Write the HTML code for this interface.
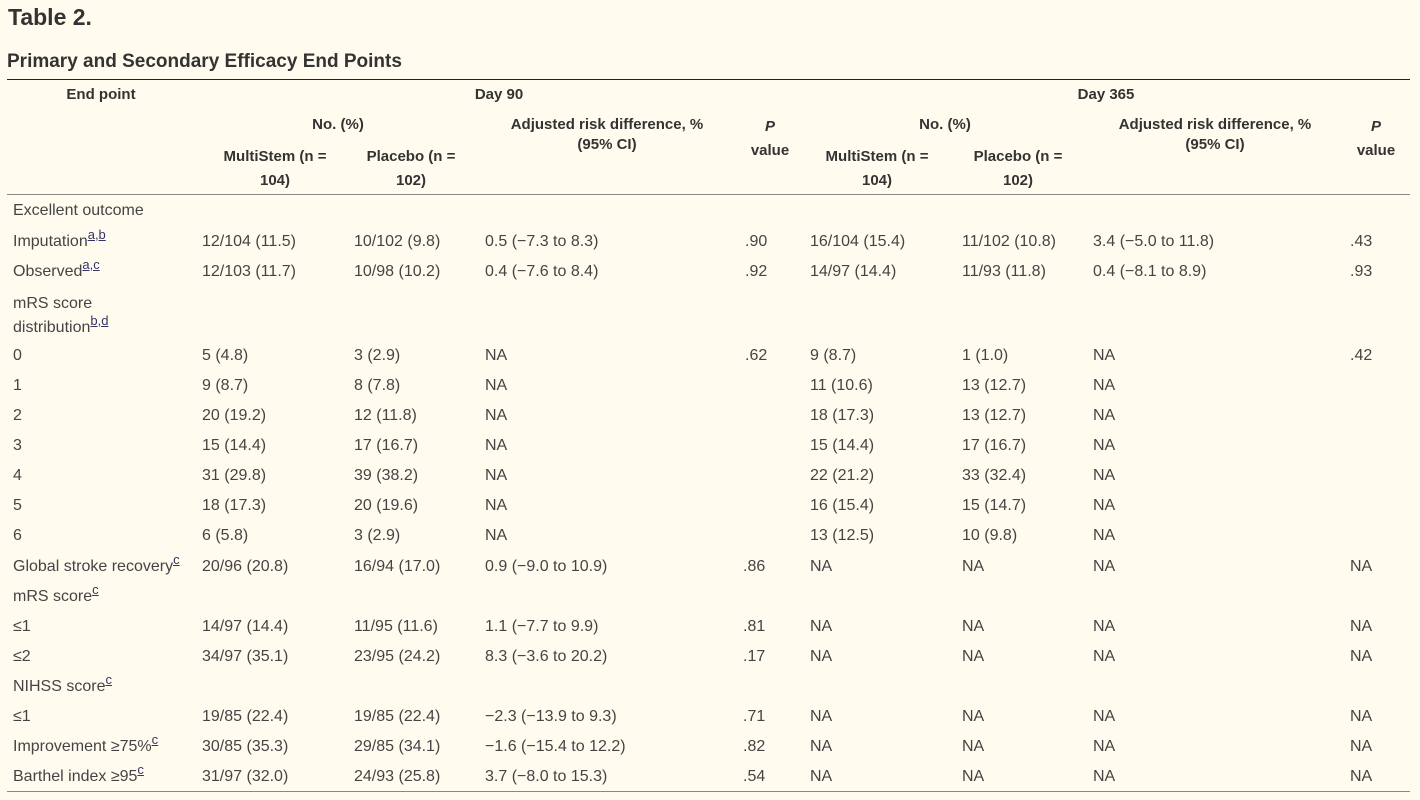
<!DOCTYPE html>
<html><head><meta charset="utf-8"><style>
body{margin:0;width:1420px;height:800px;background:#fffcef;position:relative;overflow:hidden;font-family:"Liberation Sans",sans-serif;color:#444;}
.a{position:absolute;white-space:nowrap;font-size:16px;line-height:20px;}
.h{position:absolute;white-space:nowrap;font-size:15px;line-height:20px;font-weight:bold;color:#333;text-align:center;transform:translateX(-50%);}
sup{font-size:13px;color:#336;text-decoration:underline;vertical-align:7px;line-height:0;}
.ln{position:absolute;left:7px;width:1403px;}
#b{position:absolute;left:0;top:2px;width:1420px;height:780px;}
</style></head><body>
<div class="a" style="left:8px;top:4px;font-size:23px;line-height:26px;font-weight:bold;color:#333">Table 2.</div>
<div class="a" style="left:7px;top:50px;font-size:19px;line-height:24px;font-weight:bold;color:#333">Primary and Secondary Efficacy End Points</div>
<div class="ln" style="top:79px;height:1px;background:#222"></div>
<div class="ln" style="top:194px;height:1px;background:#888"></div>
<div class="ln" style="top:791px;height:1px;background:#888"></div>

<div class="h" style="left:101px;top:85px">End point</div>
<div class="h" style="left:499px;top:85px">Day 90</div>
<div class="h" style="left:1106px;top:85px">Day 365</div>
<div class="h" style="left:338px;top:115px">No. (%)</div>
<div class="h" style="left:607px;top:115px">Adjusted risk difference, %<br>(95% CI)</div>
<div class="h" style="left:770px;top:115px;line-height:24px"><i>P</i><br>value</div>
<div class="h" style="left:275px;top:145px;line-height:24px">MultiStem (n =<br>104)</div>
<div class="h" style="left:411px;top:145px;line-height:24px">Placebo (n =<br>102)</div>
<div class="h" style="left:945px;top:115px">No. (%)</div>
<div class="h" style="left:1215px;top:115px">Adjusted risk difference, %<br>(95% CI)</div>
<div class="h" style="left:1376px;top:115px;line-height:24px"><i>P</i><br>value</div>
<div class="h" style="left:877px;top:145px;line-height:24px">MultiStem (n =<br>104)</div>
<div class="h" style="left:1018px;top:145px;line-height:24px">Placebo (n =<br>102)</div>

<div id="b">
<div class="a" style="left:13px;top:199px">Excellent outcome</div>

<div class="a" style="left:13px;top:230px">Imputation<sup>a,b</sup></div>
<div class="a" style="left:202px;top:230px">12/104 (11.5)</div><div class="a" style="left:354px;top:230px">10/102 (9.8)</div><div class="a" style="left:485px;top:230px">0.5 (−7.3 to 8.3)</div><div class="a" style="left:745px;top:230px">.90</div>
<div class="a" style="left:810px;top:230px">16/104 (15.4)</div><div class="a" style="left:962px;top:230px">11/102 (10.8)</div><div class="a" style="left:1093px;top:230px">3.4 (−5.0 to 11.8)</div><div class="a" style="left:1350px;top:230px">.43</div>

<div class="a" style="left:13px;top:260px">Observed<sup>a,c</sup></div>
<div class="a" style="left:202px;top:260px">12/103 (11.7)</div><div class="a" style="left:354px;top:260px">10/98 (10.2)</div><div class="a" style="left:485px;top:260px">0.4 (−7.6 to 8.4)</div><div class="a" style="left:745px;top:260px">.92</div>
<div class="a" style="left:810px;top:260px">14/97 (14.4)</div><div class="a" style="left:962px;top:260px">11/93 (11.8)</div><div class="a" style="left:1093px;top:260px">0.4 (−8.1 to 8.9)</div><div class="a" style="left:1350px;top:260px">.93</div>

<div class="a" style="left:13px;top:290px;line-height:24px">mRS score<br>distribution<sup>b,d</sup></div>

<div class="a" style="left:13px;top:344px">0</div><div class="a" style="left:202px;top:344px">5 (4.8)</div><div class="a" style="left:354px;top:344px">3 (2.9)</div><div class="a" style="left:485px;top:344px">NA</div><div class="a" style="left:745px;top:344px">.62</div><div class="a" style="left:810px;top:344px">9 (8.7)</div><div class="a" style="left:962px;top:344px">1 (1.0)</div><div class="a" style="left:1093px;top:344px">NA</div><div class="a" style="left:1350px;top:344px">.42</div>
<div class="a" style="left:13px;top:374px">1</div><div class="a" style="left:202px;top:374px">9 (8.7)</div><div class="a" style="left:354px;top:374px">8 (7.8)</div><div class="a" style="left:485px;top:374px">NA</div><div class="a" style="left:810px;top:374px">11 (10.6)</div><div class="a" style="left:962px;top:374px">13 (12.7)</div><div class="a" style="left:1093px;top:374px">NA</div>
<div class="a" style="left:13px;top:404px">2</div><div class="a" style="left:202px;top:404px">20 (19.2)</div><div class="a" style="left:354px;top:404px">12 (11.8)</div><div class="a" style="left:485px;top:404px">NA</div><div class="a" style="left:810px;top:404px">18 (17.3)</div><div class="a" style="left:962px;top:404px">13 (12.7)</div><div class="a" style="left:1093px;top:404px">NA</div>
<div class="a" style="left:13px;top:434px">3</div><div class="a" style="left:202px;top:434px">15 (14.4)</div><div class="a" style="left:354px;top:434px">17 (16.7)</div><div class="a" style="left:485px;top:434px">NA</div><div class="a" style="left:810px;top:434px">15 (14.4)</div><div class="a" style="left:962px;top:434px">17 (16.7)</div><div class="a" style="left:1093px;top:434px">NA</div>
<div class="a" style="left:13px;top:464px">4</div><div class="a" style="left:202px;top:464px">31 (29.8)</div><div class="a" style="left:354px;top:464px">39 (38.2)</div><div class="a" style="left:485px;top:464px">NA</div><div class="a" style="left:810px;top:464px">22 (21.2)</div><div class="a" style="left:962px;top:464px">33 (32.4)</div><div class="a" style="left:1093px;top:464px">NA</div>
<div class="a" style="left:13px;top:494px">5</div><div class="a" style="left:202px;top:494px">18 (17.3)</div><div class="a" style="left:354px;top:494px">20 (19.6)</div><div class="a" style="left:485px;top:494px">NA</div><div class="a" style="left:810px;top:494px">16 (15.4)</div><div class="a" style="left:962px;top:494px">15 (14.7)</div><div class="a" style="left:1093px;top:494px">NA</div>
<div class="a" style="left:13px;top:524px">6</div><div class="a" style="left:202px;top:524px">6 (5.8)</div><div class="a" style="left:354px;top:524px">3 (2.9)</div><div class="a" style="left:485px;top:524px">NA</div><div class="a" style="left:810px;top:524px">13 (12.5)</div><div class="a" style="left:962px;top:524px">10 (9.8)</div><div class="a" style="left:1093px;top:524px">NA</div>

<div class="a" style="left:13px;top:555px">Global stroke recovery<sup>c</sup></div><div class="a" style="left:202px;top:555px">20/96 (20.8)</div><div class="a" style="left:354px;top:555px">16/94 (17.0)</div><div class="a" style="left:485px;top:555px">0.9 (−9.0 to 10.9)</div><div class="a" style="left:743px;top:555px">.86</div><div class="a" style="left:810px;top:555px">NA</div><div class="a" style="left:962px;top:555px">NA</div><div class="a" style="left:1093px;top:555px">NA</div><div class="a" style="left:1350px;top:555px">NA</div>
<div class="a" style="left:13px;top:585px">mRS score<sup>c</sup></div>
<div class="a" style="left:13px;top:615px">≤1</div><div class="a" style="left:202px;top:615px">14/97 (14.4)</div><div class="a" style="left:354px;top:615px">11/95 (11.6)</div><div class="a" style="left:485px;top:615px">1.1 (−7.7 to 9.9)</div><div class="a" style="left:743px;top:615px">.81</div><div class="a" style="left:810px;top:615px">NA</div><div class="a" style="left:962px;top:615px">NA</div><div class="a" style="left:1093px;top:615px">NA</div><div class="a" style="left:1350px;top:615px">NA</div>
<div class="a" style="left:13px;top:645px">≤2</div><div class="a" style="left:202px;top:645px">34/97 (35.1)</div><div class="a" style="left:354px;top:645px">23/95 (24.2)</div><div class="a" style="left:485px;top:645px">8.3 (−3.6 to 20.2)</div><div class="a" style="left:743px;top:645px">.17</div><div class="a" style="left:810px;top:645px">NA</div><div class="a" style="left:962px;top:645px">NA</div><div class="a" style="left:1093px;top:645px">NA</div><div class="a" style="left:1350px;top:645px">NA</div>
<div class="a" style="left:13px;top:675px">NIHSS score<sup>c</sup></div>
<div class="a" style="left:13px;top:705px">≤1</div><div class="a" style="left:202px;top:705px">19/85 (22.4)</div><div class="a" style="left:354px;top:705px">19/85 (22.4)</div><div class="a" style="left:485px;top:705px">−2.3 (−13.9 to 9.3)</div><div class="a" style="left:743px;top:705px">.71</div><div class="a" style="left:810px;top:705px">NA</div><div class="a" style="left:962px;top:705px">NA</div><div class="a" style="left:1093px;top:705px">NA</div><div class="a" style="left:1350px;top:705px">NA</div>
<div class="a" style="left:13px;top:735px">Improvement ≥75%<sup>c</sup></div><div class="a" style="left:202px;top:735px">30/85 (35.3)</div><div class="a" style="left:354px;top:735px">29/85 (34.1)</div><div class="a" style="left:485px;top:735px">−1.6 (−15.4 to 12.2)</div><div class="a" style="left:743px;top:735px">.82</div><div class="a" style="left:810px;top:735px">NA</div><div class="a" style="left:962px;top:735px">NA</div><div class="a" style="left:1093px;top:735px">NA</div><div class="a" style="left:1350px;top:735px">NA</div>
<div class="a" style="left:13px;top:765px">Barthel index ≥95<sup>c</sup></div><div class="a" style="left:202px;top:765px">31/97 (32.0)</div><div class="a" style="left:354px;top:765px">24/93 (25.8)</div><div class="a" style="left:485px;top:765px">3.7 (−8.0 to 15.3)</div><div class="a" style="left:743px;top:765px">.54</div><div class="a" style="left:810px;top:765px">NA</div><div class="a" style="left:962px;top:765px">NA</div><div class="a" style="left:1093px;top:765px">NA</div><div class="a" style="left:1350px;top:765px">NA</div>
</div>
</body></html>
